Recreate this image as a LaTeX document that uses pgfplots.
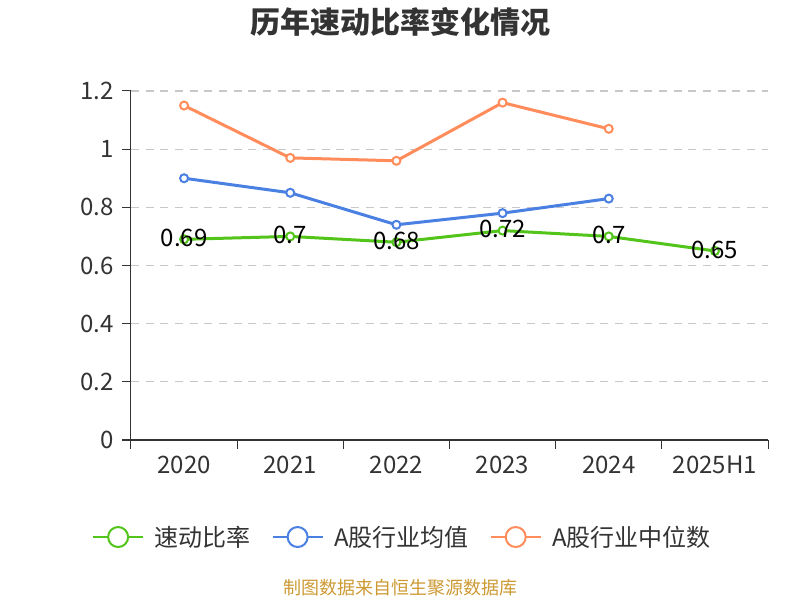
\documentclass[border=0pt]{standalone}
\usepackage{fontspec}
\setmainfont{Noto Sans CJK SC}
\usepackage{pgfplots}
\pgfplotsset{compat=1.18}
\definecolor{cgreen}{RGB}{82,196,26}
\definecolor{cblue}{RGB}{74,128,226}
\definecolor{corange}{RGB}{255,140,90}
\definecolor{ctext}{RGB}{51,51,51}
\definecolor{cgrid}{RGB}{200,200,200}
\definecolor{cfoot}{RGB}{204,153,51}
\begin{document}
\begin{tikzpicture}[x=1pt,y=1pt]
\useasboundingbox (0,0) rectangle (600,450);
\node[font=\fontsize{22.5}{26}\selectfont\bfseries, text=ctext] at (300,433.5) {历年速动比率变化情况};
\node[font=\fontsize{13.5}{16}\selectfont, text=cfoot] at (300.4,9) {制图数据来自恒生聚源数据库};
\begin{axis}[
  at={(98.25pt,120pt)}, anchor=south west,
  width=477.75pt, height=261.75pt, scale only axis,
  xmin=-0.5, xmax=5.5, ymin=0, ymax=1.2,
  xtick={-0.5,0.5,1.5,2.5,3.5,4.5,5.5},
  xticklabels={2020,2021,2022,2023,2024,2025H1},
  x tick label as interval,
  ytick={0,0.2,0.4,0.6,0.8,1,1.2},
  axis lines*=left,
  axis line style={ctext, line width=0.75pt},
  tick style={ctext, line width=0.75pt},
  tick align=outside,
  major tick length=6.5pt,
  ymajorgrids,
  major grid style={cgrid, dash pattern=on 6pt off 5pt, line width=0.9pt},
  tick label style={font=\fontsize{18}{20}\selectfont, text=ctext},
  xticklabel style={yshift=-2pt},
  yticklabel style={xshift=-3pt},
  /pgf/number format/assume math mode=true,
  clip=false,
  legend columns=3,
  legend style={at={(0.4246,-0.278)}, anchor=center, draw=none, fill=none,
    font=\fontsize{18}{20}\selectfont, text=ctext,
    nodes={inner xsep=0pt},
    /tikz/every odd column/.append style={column sep=0pt},
    /tikz/every even column/.append style={column sep=15.75pt}},
  legend image code/.code={%
    \draw[#1, mark=none, line width=1.5pt] (0pt,0pt) -- (37.5pt,0pt);
    \draw[#1, mark=none, line width=1.5pt, fill=white] (18.75pt,0pt) circle (7.5pt);
    \path (45pt,0pt);},
  nodes near coords style={font=\fontsize{18}{20}\selectfont, text=black, anchor=center, yshift=1pt},
]
\addplot[cgreen, line width=2.25pt, mark=*, mark size=3pt, mark options={fill=white, line width=1.5pt},
  nodes near coords]
  coordinates {(0,0.69)(1,0.7)(2,0.68)(3,0.72)(4,0.7)(5,0.65)};
\addlegendentry{速动比率}
\addplot[cblue, line width=2.25pt, mark=*, mark size=3pt, mark options={fill=white, line width=1.5pt}]
  coordinates {(0,0.9)(1,0.85)(2,0.74)(3,0.78)(4,0.83)};
\addlegendentry{A股行业均值}
\addplot[corange, line width=2.25pt, mark=*, mark size=3pt, mark options={fill=white, line width=1.5pt}]
  coordinates {(0,1.15)(1,0.97)(2,0.96)(3,1.16)(4,1.07)};
\addlegendentry{A股行业中位数}
\end{axis}
\end{tikzpicture}
\end{document}
